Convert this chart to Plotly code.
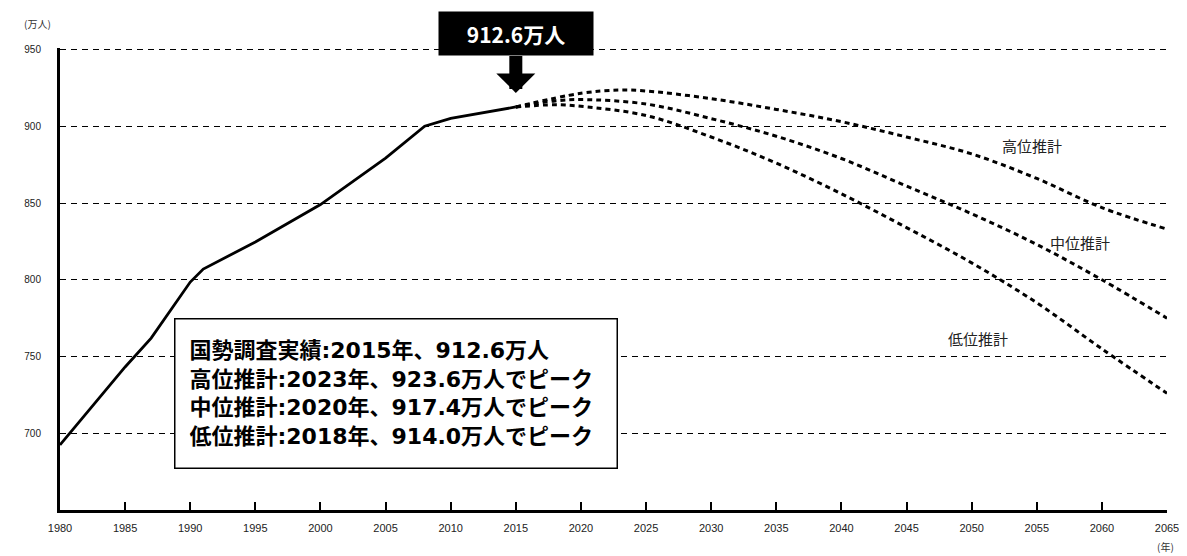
import plotly.graph_objects as go

# Actual census line
actual_years = [1980, 1985, 1987, 1990, 1991, 1995, 2000, 2005, 2008, 2010, 2015]
actual_vals = [692.4, 743.2, 762.0, 798.5, 807.0, 824.6, 849.0, 879.2, 900.0, 905.2, 912.6]

# Projections
high_years = [2015, 2020, 2023, 2025, 2030, 2035, 2040, 2045, 2050, 2055, 2060, 2065]
high_vals = [912.6, 921.5, 923.6, 923.0, 918.0, 911.0, 903.0, 893.0, 882.0, 866.0, 847.0, 833.0]

mid_years = [2015, 2018, 2020, 2025, 2030, 2035, 2040, 2045, 2050, 2055, 2060, 2065]
mid_vals = [912.6, 916.5, 917.4, 914.5, 905.0, 893.5, 879.0, 861.0, 843.0, 823.0, 800.0, 775.0]

low_years = [2015, 2018, 2020, 2025, 2030, 2035, 2040, 2045, 2050, 2055, 2060, 2065]
low_vals = [912.6, 914.0, 913.0, 907.0, 893.0, 876.0, 856.0, 834.0, 811.0, 785.0, 755.0, 726.0]

x_ticks = list(range(1980, 2066, 5))
y_ticks = [700, 750, 800, 850, 900, 950]

summary_lines = [
    "国勢調査実績:2015年、912.6万人",
    "高位推計:2023年、923.6万人でピーク",
    "中位推計:2020年、917.4万人でピーク",
    "低位推計:2018年、914.0万人でピーク",
]
callout_text = "912.6万人"
series_labels = [("高位推計", 2054.6, 887.5), ("中位推計", 2058.3, 824.0), ("低位推計", 2050.5, 761.5)]

CJK = "Noto Sans CJK JP"
BOXFONT = "DejaVu Sans, Noto Sans CJK JP"
TICKFONT = "Liberation Sans Narrow, Liberation Sans, Arial"

fig = go.Figure()

dot_style = dict(color="black", width=3, dash="5px,4px")
fig.add_trace(go.Scatter(x=high_years, y=high_vals, mode="lines", line=dot_style,
                         line_shape="spline", showlegend=False, hoverinfo="skip"))
fig.add_trace(go.Scatter(x=mid_years, y=mid_vals, mode="lines", line=dot_style,
                         line_shape="spline", showlegend=False, hoverinfo="skip"))
fig.add_trace(go.Scatter(x=low_years, y=low_vals, mode="lines", line=dot_style,
                         line_shape="spline", showlegend=False, hoverinfo="skip"))
fig.add_trace(go.Scatter(x=actual_years, y=actual_vals, mode="lines",
                         line=dict(color="black", width=2.8), showlegend=False, hoverinfo="skip"))

# Summary box
fig.add_annotation(
    xref="paper", yref="paper", x=0.103, y=0.4156, xanchor="left", yanchor="top",
    text="<br>".join("<b>" + s + "</b>" for s in summary_lines), showarrow=False, align="left",
    font=dict(family=BOXFONT, size=22, color="black"),
    bgcolor="white", bordercolor="black", borderwidth=1.5, borderpad=14,
    width=413, height=120, valign="middle",
)

# Callout with arrow pointing at 2015 value
fig.add_annotation(
    x=actual_years[-1], y=actual_vals[-1], xref="x", yref="y",
    text="<b>" + callout_text + "</b>", showarrow=True,
    ax=0, ay=-73, arrowhead=1, arrowsize=0.5, arrowwidth=13, arrowcolor="black",
    standoff=14, font=dict(family=CJK, size=21, color="white"),
    bgcolor="black", borderpad=6, width=142, height=31,
)

for txt, xx, yy in series_labels:
    fig.add_annotation(x=xx, y=yy, text=txt, showarrow=False,
                       font=dict(family=CJK, size=15, color="#222"))

fig.add_annotation(xref="paper", yref="paper", x=-0.034, y=1.073, text="(万人)",
                   showarrow=False, font=dict(family=CJK, size=10, color="#333"))
fig.add_annotation(xref="paper", yref="paper", x=1.008, y=-0.1, text="(年)",
                   showarrow=False, font=dict(family=CJK, size=10, color="#333"))

fig.update_xaxes(
    range=[1980, 2065], tickvals=x_ticks, ticktext=[str(v) for v in x_ticks],
    showgrid=False, zeroline=False, showline=True, linecolor="black", linewidth=2.5,
    ticks="inside", ticklen=8, tickwidth=2, tickcolor="black",
    tickfont=dict(family=TICKFONT, size=11, color="#222"), ticklabelstandoff=6,
    automargin=False,
)
fig.update_yaxes(
    range=[650, 951], tickvals=y_ticks, ticktext=[str(v) for v in y_ticks],
    showgrid=True, gridcolor="black", gridwidth=1.2, griddash="6px,5px",
    zeroline=False, showline=True, linecolor="black", linewidth=3, ticks="",
    tickfont=dict(family=TICKFONT, size=10, color="#222"), ticklabelstandoff=14,
    automargin=False,
)

# the page body adds an 8px offset; compensate so the plot area lands where the reference has it
fig.update_layout(
    width=1179, height=548, margin=dict(l=52, r=20, t=40, b=46, autoexpand=False),
    paper_bgcolor="white", plot_bgcolor="white",
)

fig.write_html("out.html")
